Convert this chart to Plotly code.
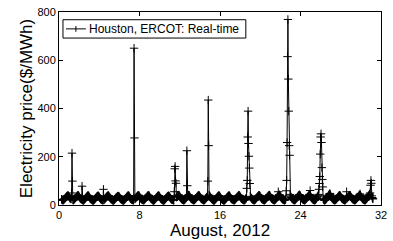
import numpy as np
import plotly.graph_objects as go

# Hourly real-time prices ($/MWh), Houston zone, ERCOT, August 2012 (one row per day)
day_prices = [
    [24, 22, 21, 20, 20, 21, 23, 25, 27, 29, 31, 33, 35, 37, 38, 39, 39, 37, 34, 31, 29, 27, 26, 25],
    [50, 215, 99, 21, 20, 21, 23, 25, 27, 29, 31, 33, 35, 37, 39, 40, 40, 38, 35, 32, 29, 27, 26, 24],
    [23, 78, 21, 20, 19, 20, 22, 24, 26, 28, 30, 32, 34, 36, 38, 39, 39, 37, 34, 31, 28, 26, 25, 23],
    [22, 21, 20, 19, 19, 20, 22, 24, 26, 28, 30, 32, 34, 36, 37, 38, 38, 36, 33, 30, 28, 26, 24, 23],
    [23, 21, 20, 20, 65, 21, 23, 25, 27, 29, 31, 33, 35, 37, 38, 39, 39, 37, 34, 31, 29, 27, 25, 24],
    [23, 21, 20, 19, 19, 20, 22, 24, 26, 28, 30, 32, 33, 35, 36, 37, 37, 36, 33, 30, 28, 26, 24, 23],
    [22, 21, 20, 19, 19, 20, 22, 24, 26, 28, 30, 32, 34, 36, 38, 39, 39, 37, 34, 31, 28, 26, 25, 23],
    [23, 22, 21, 20, 20, 650, 278, 25, 27, 29, 31, 33, 35, 37, 39, 40, 40, 38, 35, 32, 29, 27, 26, 24],
    [23, 22, 21, 20, 20, 21, 23, 25, 27, 29, 31, 33, 35, 37, 39, 40, 40, 38, 35, 32, 29, 27, 26, 24],
    [23, 21, 20, 19, 19, 20, 22, 24, 26, 28, 30, 32, 34, 36, 38, 39, 39, 37, 34, 31, 28, 26, 25, 23],
    [22, 21, 20, 19, 19, 20, 22, 24, 26, 28, 30, 32, 34, 36, 37, 38, 38, 36, 33, 30, 28, 26, 24, 23],
    [23, 22, 21, 20, 20, 55, 150, 160, 100, 90, 32, 34, 36, 38, 40, 41, 41, 39, 36, 32, 30, 28, 26, 24],
    [23, 22, 21, 20, 20, 21, 23, 25, 27, 29, 31, 225, 80, 38, 40, 41, 41, 39, 35, 32, 29, 27, 26, 24],
    [23, 22, 21, 20, 20, 21, 23, 25, 27, 29, 31, 33, 35, 37, 39, 40, 40, 38, 35, 32, 29, 27, 26, 24],
    [23, 22, 21, 20, 20, 21, 23, 25, 27, 29, 31, 33, 35, 99, 435, 246, 41, 39, 36, 32, 30, 28, 26, 24],
    [23, 21, 20, 19, 19, 20, 22, 24, 26, 28, 30, 32, 34, 36, 38, 39, 39, 37, 34, 31, 28, 26, 25, 23],
    [22, 21, 20, 19, 19, 20, 22, 24, 26, 28, 30, 32, 34, 36, 38, 39, 39, 37, 34, 31, 28, 26, 25, 23],
    [23, 22, 21, 20, 20, 21, 23, 25, 27, 29, 31, 33, 35, 37, 39, 40, 40, 38, 35, 32, 29, 27, 26, 24],
    [23, 22, 21, 20, 20, 21, 23, 25, 27, 29, 69, 102, 282, 389, 255, 202, 153, 89, 36, 33, 30, 28, 26, 24],
    [23, 22, 21, 20, 20, 21, 23, 25, 27, 29, 31, 33, 35, 37, 39, 40, 40, 38, 35, 32, 29, 27, 26, 24],
    [23, 22, 21, 20, 20, 21, 23, 25, 27, 29, 31, 33, 35, 37, 39, 41, 41, 39, 35, 32, 29, 27, 26, 24],
    [23, 22, 21, 20, 20, 21, 23, 25, 27, 29, 31, 33, 36, 55, 40, 42, 42, 40, 36, 33, 30, 28, 26, 24],
    [24, 22, 21, 20, 20, 21, 23, 25, 59, 102, 259, 615, 769, 522, 389, 246, 206, 44, 38, 34, 31, 28, 27, 25],
    [24, 22, 21, 20, 20, 21, 23, 25, 27, 29, 31, 33, 36, 38, 40, 42, 42, 40, 36, 33, 30, 28, 26, 24],
    [23, 22, 21, 20, 20, 21, 23, 25, 27, 29, 31, 33, 36, 38, 40, 42, 44, 60, 37, 33, 30, 28, 26, 24],
    [23, 22, 21, 20, 20, 21, 23, 25, 27, 30, 33, 36, 40, 44, 65, 89, 118, 211, 282, 295, 259, 155, 106, 75],
    [26, 23, 21, 20, 20, 21, 23, 25, 27, 29, 32, 34, 37, 40, 42, 45, 48, 44, 38, 34, 31, 29, 27, 25],
    [24, 22, 21, 20, 20, 21, 22, 24, 26, 28, 30, 32, 35, 37, 39, 40, 40, 38, 35, 32, 29, 27, 26, 24],
    [23, 22, 21, 20, 20, 21, 23, 25, 55, 28, 30, 32, 35, 37, 39, 40, 40, 38, 35, 32, 29, 27, 26, 24],
    [23, 22, 21, 20, 20, 21, 23, 25, 27, 29, 31, 33, 36, 38, 40, 42, 46, 41, 36, 33, 30, 28, 26, 24],
    [23, 22, 21, 20, 20, 21, 23, 25, 27, 29, 32, 34, 37, 40, 42, 45, 50, 82, 102, 90, 38, 31, 27, 25],
]

x_ticks = [0, 8, 16, 24, 32]
y_ticks = [0, 200, 400, 600, 800]
series_name = "Houston, ERCOT: Real-time"
x_title = "August, 2012"
y_title = "Electricity price($/MWh)"

prices = np.array(day_prices, dtype=float).ravel()
hours_offset = 6  # series starts a quarter day in
t_days = (np.arange(prices.size) + hours_offset) / 24.0

FONT = "Liberation Sans, Arial, Helvetica, sans-serif"
W, H = 393, 241
ML, MR, MT, MB = 59, 10, 6, 35
PW, PH = W - ML - MR, H - MT - MB


def px_x(px):
    return (px - ML) / PW


def px_y(py):
    return (H - MB - py) / PH


fig = go.Figure()
fig.add_trace(go.Scatter(
    x=t_days, y=prices, mode="lines+markers", name=series_name,
    line=dict(color="black", width=1),
    marker=dict(symbol="cross-thin", size=6, line=dict(color="black", width=1)),
    showlegend=False,
))

axis_common = dict(
    showline=True, linecolor="black", linewidth=1, mirror="ticks",
    ticks="inside", ticklen=4, tickwidth=1, tickcolor="black",
    showgrid=False, zeroline=False,
    tickfont=dict(family=FONT, size=11, color="black"),
)

# Legend box drawn as shapes + text (MATLAB-style compact legend)
leg_y = px_y(23.5)
shapes = [
    dict(type="rect", xref="paper", yref="paper", layer="above",
         x0=px_x(63), x1=px_x(247), y0=px_y(33), y1=px_y(14),
         line=dict(color="black", width=1), fillcolor="white"),
    dict(type="line", xref="paper", yref="paper", layer="above",
         x0=px_x(66), x1=px_x(86), y0=leg_y, y1=leg_y,
         line=dict(color="black", width=1)),
    dict(type="line", xref="paper", yref="paper", layer="above",
         x0=px_x(76), x1=px_x(76), y0=px_y(26.5), y1=px_y(20.5),
         line=dict(color="black", width=1)),
]
annotations = [
    dict(text=series_name, xref="paper", yref="paper", x=px_x(87.5), y=leg_y,
         xanchor="left", yanchor="middle", showarrow=False,
         font=dict(family=FONT, size=12, color="black")),
]

fig.update_layout(
    width=W, height=H,
    margin=dict(l=ML, r=MR, t=MT, b=MB),
    paper_bgcolor="white", plot_bgcolor="white",
    font=dict(family=FONT, color="black"),
    showlegend=False,
    xaxis=dict(range=[0, 32], tickvals=x_ticks,
               title=dict(text=x_title, font=dict(family=FONT, size=17), standoff=2),
               **axis_common),
    yaxis=dict(range=[0, 800], tickvals=y_ticks,
               title=dict(text=y_title, font=dict(family=FONT, size=17), standoff=0),
               **axis_common),
    shapes=shapes,
    annotations=annotations,
)

fig.write_html("out.html", config={"displayModeBar": False},
               post_script="document.body.style.margin='0';")
